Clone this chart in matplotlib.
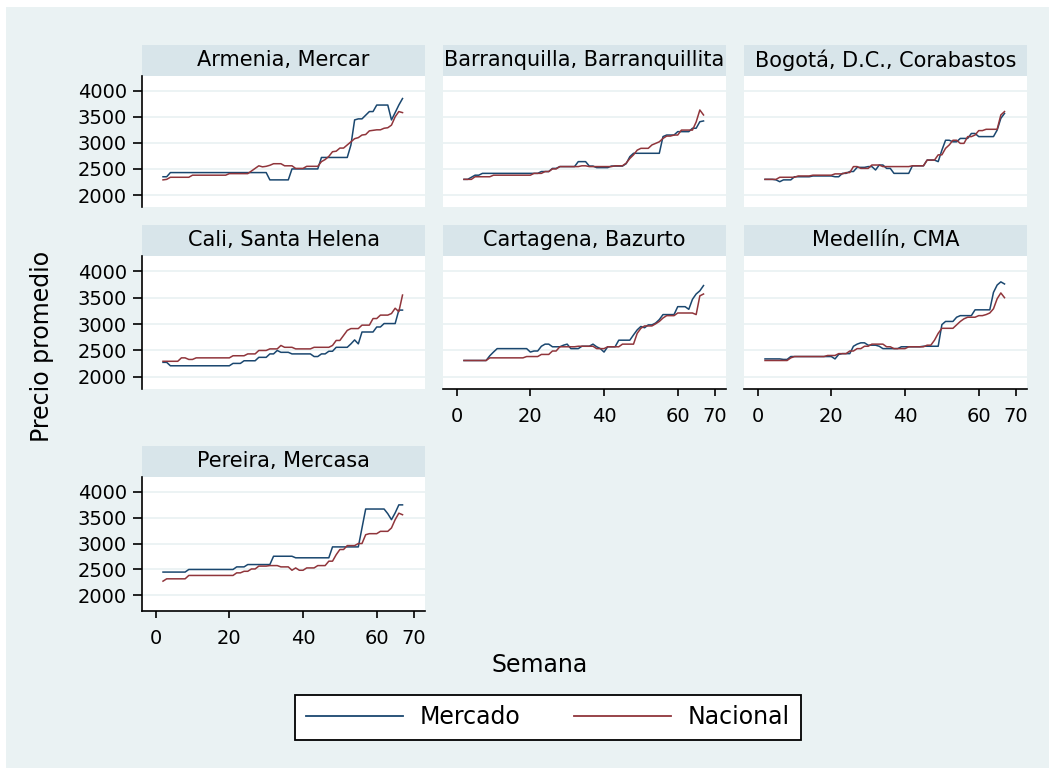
import matplotlib
matplotlib.use("Agg")
import matplotlib.pyplot as plt
from matplotlib.patches import Rectangle
from matplotlib.lines import Line2D

plt.rcParams["font.family"] = ["DejaVu Sans"]

# Data: average price per week, market vs national
weeks = list(range(2, 68))

armenia_mercado = [
    2350, 2350, 2430, 2430, 2430, 2430, 2430, 2430, 2430, 2430,
    2430, 2430, 2430, 2430, 2430, 2430, 2430, 2430, 2430, 2430,
    2430, 2430, 2430, 2430, 2430, 2430, 2430, 2430, 2430, 2290,
    2290, 2290, 2290, 2290, 2290, 2500, 2500, 2500, 2500, 2500,
    2500, 2500, 2500, 2720, 2720, 2720, 2720, 2720, 2720, 2720,
    2720, 2960, 3440, 3460, 3460, 3530, 3600, 3600, 3725, 3725,
    3725, 3725, 3440, 3580, 3725, 3850]
armenia_nacional = [
    2290, 2300, 2340, 2340, 2340, 2340, 2340, 2340, 2380, 2380,
    2380, 2380, 2380, 2380, 2380, 2380, 2380, 2380, 2410, 2410,
    2410, 2410, 2410, 2410, 2460, 2510, 2560, 2540, 2550, 2570,
    2600, 2600, 2600, 2560, 2560, 2560, 2510, 2510, 2510, 2550,
    2550, 2550, 2550, 2640, 2680, 2740, 2830, 2840, 2900, 2900,
    2960, 3020, 3080, 3100, 3150, 3160, 3230, 3240, 3250, 3250,
    3280, 3290, 3340, 3500, 3600, 3580]

barranquilla_mercado = [
    2300, 2300, 2340, 2380, 2380, 2415, 2415, 2415, 2415, 2415,
    2415, 2415, 2415, 2415, 2415, 2415, 2415, 2415, 2415, 2415,
    2415, 2450, 2450, 2450, 2510, 2510, 2545, 2545, 2545, 2545,
    2545, 2640, 2640, 2640, 2555, 2555, 2525, 2525, 2525, 2525,
    2555, 2555, 2555, 2555, 2600, 2735, 2800, 2800, 2800, 2800,
    2800, 2800, 2800, 2800, 3120, 3150, 3150, 3150, 3215, 3215,
    3215, 3215, 3280, 3280, 3405, 3420]
barranquilla_nacional = [
    2300, 2300, 2300, 2350, 2350, 2350, 2350, 2350, 2380, 2380,
    2380, 2380, 2380, 2380, 2380, 2380, 2380, 2380, 2380, 2415,
    2415, 2415, 2450, 2450, 2500, 2500, 2545, 2545, 2545, 2545,
    2545, 2545, 2560, 2560, 2545, 2545, 2545, 2545, 2545, 2545,
    2545, 2560, 2560, 2560, 2610, 2700, 2770, 2860, 2895, 2895,
    2895, 2960, 2990, 3020, 3085, 3130, 3130, 3150, 3150, 3245,
    3245, 3245, 3245, 3400, 3630, 3535]

bogota_mercado = [
    2300, 2300, 2300, 2290, 2255, 2290, 2290, 2290, 2350, 2350,
    2350, 2350, 2350, 2365, 2365, 2365, 2365, 2365, 2365, 2350,
    2350, 2415, 2415, 2450, 2450, 2530, 2530, 2530, 2545, 2545,
    2480, 2575, 2575, 2510, 2510, 2415, 2415, 2415, 2415, 2415,
    2560, 2560, 2560, 2560, 2670, 2670, 2670, 2640, 2860, 3050,
    3050, 3020, 3020, 3085, 3085, 3085, 3180, 3180, 3120, 3120,
    3120, 3120, 3120, 3245, 3470, 3565]
bogota_nacional = [
    2300, 2300, 2300, 2300, 2340, 2340, 2340, 2340, 2340, 2365,
    2365, 2365, 2365, 2380, 2380, 2380, 2380, 2380, 2380, 2405,
    2405, 2405, 2430, 2430, 2545, 2545, 2510, 2510, 2510, 2575,
    2575, 2575, 2545, 2545, 2545, 2545, 2545, 2545, 2545, 2545,
    2560, 2560, 2560, 2560, 2670, 2670, 2670, 2770, 2770, 2895,
    2960, 3050, 3050, 2990, 2990, 3120, 3120, 3150, 3235, 3235,
    3260, 3260, 3260, 3260, 3535, 3600]

cali_mercado = [
    2275, 2275, 2210, 2210, 2210, 2210, 2210, 2210, 2210, 2210,
    2210, 2210, 2210, 2210, 2210, 2210, 2210, 2210, 2210, 2255,
    2255, 2255, 2305, 2305, 2305, 2305, 2370, 2370, 2370, 2435,
    2435, 2500, 2465, 2465, 2465, 2435, 2435, 2435, 2435, 2435,
    2435, 2385, 2385, 2435, 2435, 2485, 2485, 2560, 2560, 2560,
    2560, 2625, 2700, 2625, 2850, 2850, 2850, 2850, 2945, 2945,
    3010, 3010, 3010, 3010, 3265, 3265]
cali_nacional = [
    2295, 2295, 2295, 2295, 2295, 2360, 2360, 2330, 2330, 2360,
    2360, 2360, 2360, 2360, 2360, 2360, 2360, 2360, 2360, 2400,
    2400, 2400, 2400, 2435, 2435, 2435, 2500, 2500, 2500, 2530,
    2530, 2530, 2595, 2560, 2560, 2560, 2530, 2530, 2530, 2530,
    2530, 2560, 2560, 2560, 2560, 2560, 2595, 2690, 2690, 2785,
    2880, 2915, 2915, 2915, 2980, 2980, 2980, 3105, 3105, 3170,
    3170, 3170, 3200, 3300, 3235, 3550]

cartagena_mercado = [
    2310, 2310, 2310, 2310, 2310, 2310, 2310, 2400, 2470, 2535,
    2535, 2535, 2535, 2535, 2535, 2535, 2535, 2535, 2470, 2490,
    2490, 2580, 2620, 2620, 2570, 2570, 2570, 2600, 2620, 2535,
    2535, 2535, 2580, 2580, 2580, 2620, 2570, 2535, 2470, 2570,
    2570, 2570, 2695, 2695, 2695, 2695, 2795, 2890, 2955, 2930,
    2985, 2985, 3020, 3085, 3180, 3180, 3180, 3180, 3330, 3330,
    3330, 3280, 3470, 3570, 3630, 3730]
cartagena_nacional = [
    2310, 2310, 2310, 2310, 2310, 2310, 2310, 2360, 2360, 2360,
    2360, 2360, 2360, 2360, 2360, 2360, 2360, 2385, 2385, 2385,
    2385, 2425, 2425, 2425, 2490, 2490, 2570, 2570, 2570, 2570,
    2570, 2580, 2580, 2580, 2580, 2580, 2535, 2535, 2535, 2570,
    2570, 2570, 2570, 2620, 2620, 2620, 2620, 2825, 2920, 2965,
    2965, 2965, 3005, 3050, 3115, 3160, 3160, 3160, 3210, 3210,
    3210, 3210, 3210, 3180, 3535, 3570]

medellin_mercado = [
    2340, 2340, 2340, 2340, 2340, 2330, 2330, 2385, 2385, 2385,
    2385, 2385, 2385, 2385, 2385, 2385, 2385, 2385, 2385, 2340,
    2425, 2440, 2440, 2440, 2580, 2620, 2645, 2645, 2600, 2600,
    2600, 2580, 2535, 2535, 2535, 2535, 2535, 2570, 2570, 2570,
    2570, 2570, 2570, 2580, 2580, 2580, 2580, 2580, 2990, 3050,
    3050, 3050, 3130, 3160, 3160, 3160, 3160, 3270, 3270, 3270,
    3270, 3270, 3600, 3740, 3800, 3760]
medellin_nacional = [
    2310, 2310, 2310, 2310, 2310, 2310, 2310, 2360, 2385, 2385,
    2385, 2385, 2385, 2385, 2385, 2385, 2385, 2405, 2405, 2405,
    2440, 2440, 2440, 2490, 2490, 2535, 2535, 2580, 2580, 2620,
    2620, 2620, 2620, 2570, 2570, 2535, 2535, 2535, 2535, 2570,
    2570, 2570, 2570, 2570, 2600, 2600, 2695, 2825, 2920, 2920,
    2920, 2920, 2985, 3050, 3100, 3130, 3130, 3130, 3160, 3160,
    3180, 3210, 3290, 3480, 3590, 3500]

pereira_mercado = [
    2450, 2450, 2450, 2450, 2450, 2450, 2450, 2500, 2500, 2500,
    2500, 2500, 2500, 2500, 2500, 2500, 2500, 2500, 2500, 2500,
    2550, 2550, 2550, 2595, 2595, 2595, 2595, 2595, 2595, 2595,
    2755, 2755, 2755, 2755, 2755, 2755, 2725, 2725, 2725, 2725,
    2725, 2725, 2725, 2725, 2725, 2725, 2935, 2935, 2935, 2935,
    2935, 2935, 2935, 2935, 3300, 3665, 3665, 3665, 3665, 3665,
    3665, 3575, 3460, 3590, 3745, 3745]
pereira_nacional = [
    2275, 2320, 2320, 2320, 2320, 2320, 2320, 2385, 2385, 2385,
    2385, 2385, 2385, 2385, 2385, 2385, 2385, 2385, 2385, 2385,
    2435, 2435, 2465, 2465, 2510, 2510, 2565, 2565, 2565, 2575,
    2575, 2575, 2550, 2550, 2550, 2485, 2530, 2485, 2485, 2530,
    2530, 2530, 2575, 2575, 2575, 2660, 2660, 2785, 2885, 2885,
    2960, 2960, 2960, 3000, 3000, 3170, 3190, 3190, 3190, 3235,
    3235, 3235, 3300, 3460, 3585, 3555]

panel_names = ["Armenia, Mercar", "Barranquilla, Barranquillita",
               "Bogotá, D.C., Corabastos", "Cali, Santa Helena",
               "Cartagena, Bazurto", "Medellín, CMA", "Pereira, Mercasa"]
mercado = [armenia_mercado, barranquilla_mercado, bogota_mercado, cali_mercado,
           cartagena_mercado, medellin_mercado, pereira_mercado]
nacional = [armenia_nacional, barranquilla_nacional, bogota_nacional, cali_nacional,
            cartagena_nacional, medellin_nacional, pereira_nacional]

x_ticks = [0, 20, 40, 60, 70]
y_ticks = [2000, 2500, 3000, 3500, 4000]

# Style
BG = "#EAF2F3"
STRIP = "#D8E5EA"
NAVY = "#1A476F"
MAROON = "#90353B"

W, H = 1055, 775
fig = plt.figure(figsize=(W / 100, H / 100), dpi=100, facecolor="white")
fig.add_artist(Rectangle((6 / W, 7 / H), 1043 / W, 761 / H, transform=fig.transFigure,
                         facecolor=BG, edgecolor="none", zorder=-10))


def px_axes(x0, y0, x1, y1):
    return fig.add_axes([x0 / W, 1 - y1 / H, (x1 - x0) / W, (y1 - y0) / H])


cols_x = [142, 443, 744]
panel_w = 283
# strip top, plot top, plot bottom, y lower, y upper
rows = [(45, 76, 207, 1770, 4282),
        (225, 256, 389, 1770, 4290),
        (446, 477, 611, 1700, 4282)]

for i, name in enumerate(panel_names):
    r, c = divmod(i, 3)
    strip_top, top, bot, ylo, yhi = rows[r]
    x0 = cols_x[c]
    show_x = i + 3 >= len(panel_names)
    show_y = c == 0

    # Strip
    sax = px_axes(x0, strip_top, x0 + panel_w, top)
    sax.set_facecolor(STRIP)
    sax.set_xticks([])
    sax.set_yticks([])
    for s in sax.spines.values():
        s.set_visible(False)
    sax.text(0.5, 0.52, name, ha="center", va="center", fontsize=15,
             transform=sax.transAxes)

    # Plot
    ax = px_axes(x0, top, x0 + panel_w, bot)
    ax.set_facecolor("white")
    ax.plot(weeks, mercado[i], color=NAVY, lw=1.1)
    ax.plot(weeks, nacional[i], color=MAROON, lw=1.1)
    ax.set_xlim(-3.7, 73.1)
    ax.set_ylim(ylo, yhi)
    ax.set_xticks(x_ticks)
    ax.set_yticks(y_ticks)
    ax.grid(axis="y", color=BG, lw=1.3)
    ax.set_axisbelow(True)
    for s in ["top", "right"]:
        ax.spines[s].set_visible(False)
    ax.spines["left"].set_visible(show_y)
    ax.spines["bottom"].set_visible(show_x)
    for s in ["left", "bottom"]:
        ax.spines[s].set_linewidth(1.2)
    ax.tick_params(axis="y", left=show_y, labelleft=show_y, length=6.5, width=1.2,
                   pad=4.5, labelsize=14)
    ax.tick_params(axis="x", bottom=show_x, labelbottom=show_x, length=5, width=1.2,
                   pad=8, labelsize=14)

# Axis titles
fig.text(42 / W, 1 - 346 / H, "Precio promedio", rotation=90, ha="center",
         va="center", fontsize=17)
fig.text(540 / W, 1 - 665 / H, "Semana", ha="center", va="center", fontsize=17)

# Legend
handles = [Line2D([], [], color=NAVY, lw=1.3), Line2D([], [], color=MAROON, lw=1.3)]
leg = fig.legend(handles, ["Mercado", "Nacional"], ncol=2, loc="center",
                 bbox_to_anchor=(548 / W, 1 - 717.5 / H), fontsize=17,
                 handlelength=4.1, handletextpad=0.7, columnspacing=2.3,
                 borderpad=0.45, fancybox=False, framealpha=1)
leg.get_frame().set_edgecolor("black")
leg.get_frame().set_linewidth(1.3)

fig.savefig("out.png", dpi=100, facecolor="white")
